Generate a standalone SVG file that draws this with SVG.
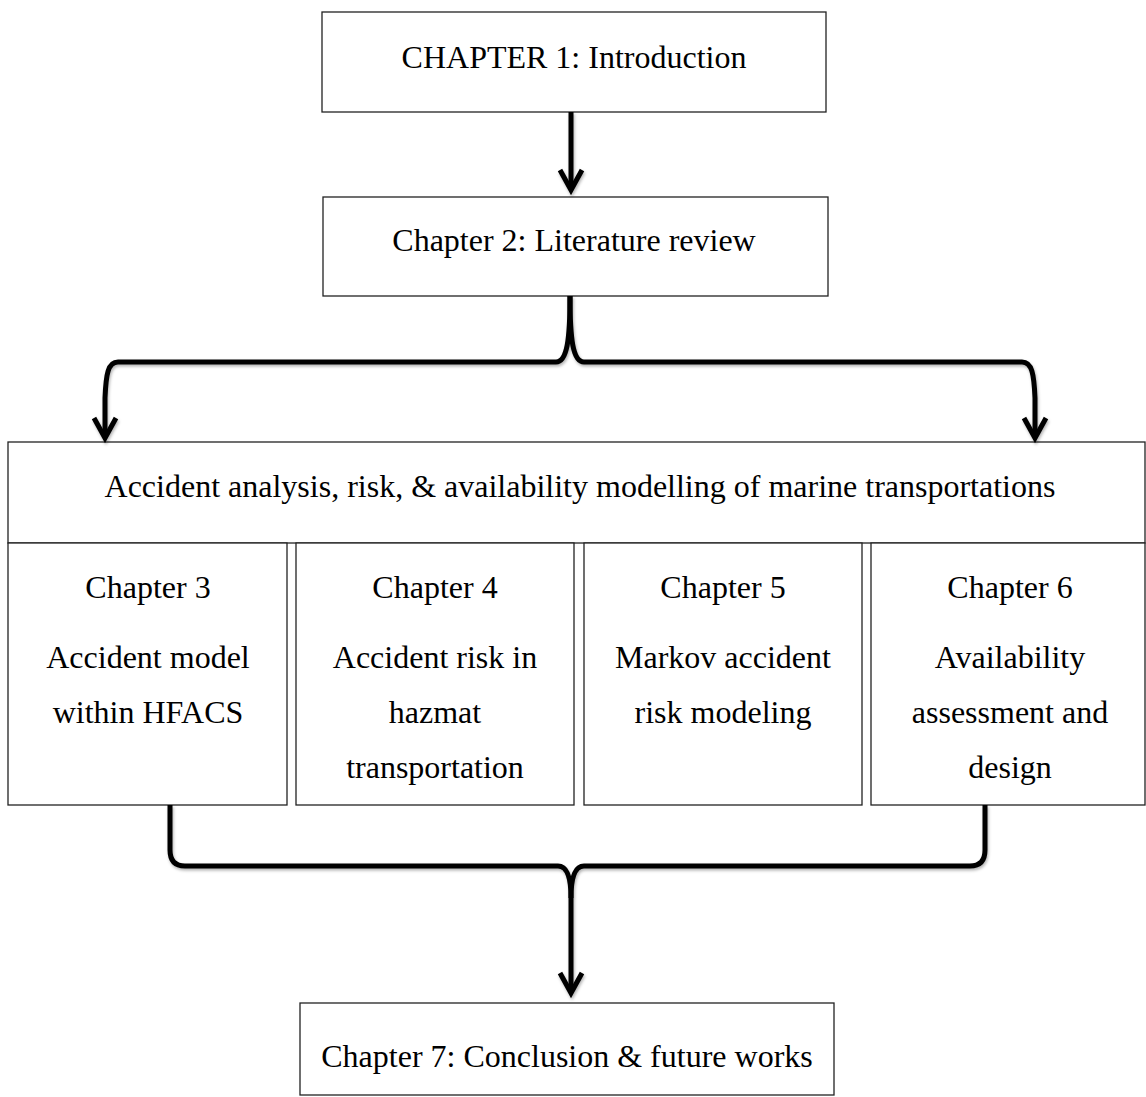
<svg xmlns="http://www.w3.org/2000/svg" width="1146" height="1097" viewBox="0 0 1146 1097">
  <style>
    .box { fill: #ffffff; stroke: #222222; stroke-width: 1.3; }
    .lbl { font-family: "Liberation Serif", "Times New Roman", serif; font-size: 32px; fill: #000000; text-anchor: middle; }
    .wire { fill: none; stroke: #000000; stroke-width: 5; stroke-linejoin: round; }
  </style>
  <defs>
    <filter id="shade" x="-5%" y="-5%" width="110%" height="120%">
      <feDropShadow dx="1" dy="2" stdDeviation="1.5" flood-color="#000000" flood-opacity="0.3"/>
    </filter>
    <marker id="chev" markerUnits="userSpaceOnUse" markerWidth="40" markerHeight="40" refX="0" refY="0" orient="auto" overflow="visible">
      <path d="M-20,-11 L0,0 L-20,11" fill="none" stroke="#000000" stroke-width="5" stroke-linejoin="miter"/>
    </marker>
  </defs>

  <rect width="1146" height="1097" fill="#ffffff"/>

  <!-- chapter nodes -->
  <g id="ch1">
    <rect class="box" x="322" y="12" width="504" height="100"/>
    <text class="lbl" x="574" y="68">CHAPTER 1: Introduction</text>
  </g>
  <g id="ch2">
    <rect class="box" x="323" y="197" width="505" height="99"/>
    <text class="lbl" x="574" y="251">Chapter 2: Literature review</text>
  </g>
  <g id="theme">
    <rect class="box" x="8" y="442" width="1137" height="101"/>
    <text class="lbl" x="580" y="497">Accident analysis, risk, &amp; availability modelling of marine transportations</text>
  </g>
  <g id="ch3">
    <rect class="box" x="8" y="543" width="279" height="262"/>
    <text class="lbl" x="148" y="598">Chapter 3</text>
    <text class="lbl" x="148" y="668">Accident model</text>
    <text class="lbl" x="148" y="723">within HFACS</text>
  </g>
  <g id="ch4">
    <rect class="box" x="296" y="543" width="278" height="262"/>
    <text class="lbl" x="435" y="598">Chapter 4</text>
    <text class="lbl" x="435" y="668">Accident risk in</text>
    <text class="lbl" x="435" y="723">hazmat</text>
    <text class="lbl" x="435" y="778">transportation</text>
  </g>
  <g id="ch5">
    <rect class="box" x="584" y="543" width="278" height="262"/>
    <text class="lbl" x="723" y="598">Chapter 5</text>
    <text class="lbl" x="723" y="668">Markov accident</text>
    <text class="lbl" x="723" y="723">risk modeling</text>
  </g>
  <g id="ch6">
    <rect class="box" x="871" y="543" width="274" height="262"/>
    <text class="lbl" x="1010" y="598">Chapter 6</text>
    <text class="lbl" x="1010" y="668">Availability</text>
    <text class="lbl" x="1010" y="723">assessment and</text>
    <text class="lbl" x="1010" y="778">design</text>
  </g>
  <g id="ch7">
    <rect class="box" x="300" y="1003" width="534" height="92"/>
    <text class="lbl" x="567" y="1067">Chapter 7: Conclusion &amp; future works</text>
  </g>

  <!-- connectors -->
  <g id="connectors" filter="url(#shade)">
    <path class="wire" d="M571,112 L571,190" marker-end="url(#chev)"/>
    <path class="wire" d="M570,296 C570,340 567,362 556,362 L118,362 C108,362 106,374 105,398 L105,438" marker-end="url(#chev)"/>
    <path class="wire" d="M570,296 C570,340 573,362 584,362 L1022,362 C1032,362 1034,374 1035,398 L1035,438" marker-end="url(#chev)"/>
    <path class="wire" d="M170,805 L170,850 Q170,866 185,866 L558,866 C566,866 571,876 571,898"/>
    <path class="wire" d="M985,805 L985,850 Q985,866 970,866 L584,866 C576,866 571,876 571,898 L571,993" marker-end="url(#chev)"/>
  </g>
</svg>
